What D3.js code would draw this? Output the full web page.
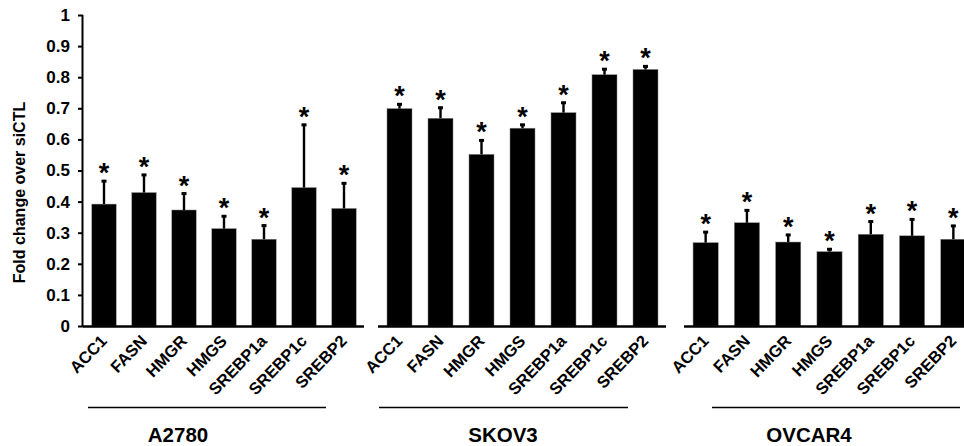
<!DOCTYPE html>
<html>
<head>
<meta charset="utf-8">
<script src="https://cdn.jsdelivr.net/npm/d3@7"></script>
<style>
  body { margin: 0; background: #fff; }
  svg { display: block; font-family: 'Liberation Sans', Arial, sans-serif; font-weight: bold; }
</style>
</head>
<body>
<div id="chart"></div>
<script>
const genes = ['ACC1', 'FASN', 'HMGR', 'HMGS', 'SREBP1a', 'SREBP1c', 'SREBP2'];
const cellLines = ['A2780', 'SKOV3', 'OVCAR4'];

const a2780Values = [0.392, 0.429, 0.373, 0.313, 0.279, 0.445, 0.378];
const a2780Errors = [0.077, 0.060, 0.056, 0.043, 0.047, 0.205, 0.084];
const skov3Values = [0.699, 0.668, 0.552, 0.636, 0.686, 0.808, 0.825];
const skov3Errors = [0.017, 0.037, 0.048, 0.014, 0.035, 0.021, 0.013];
const ovcar4Values = [0.268, 0.332, 0.270, 0.239, 0.295, 0.290, 0.279];
const ovcar4Errors = [0.037, 0.043, 0.026, 0.011, 0.044, 0.056, 0.046];

const yTicks = [0, 0.1, 0.2, 0.3, 0.4, 0.5, 0.6, 0.7, 0.8, 0.9, 1];

const width = 964, height = 446;
const baseY = 326;

const svg = d3.select('#chart')
  .append('svg')
  .attr('width', width)
  .attr('height', height);

const y = d3.scaleLinear().domain([0, 1]).range([baseY, 15]);

// each cell line gets its own band scale (the panels are not evenly spaced)
const panels = [
  { name: cellLines[0], values: a2780Values, errors: a2780Errors, range: [84, 364], line: [88, 326], label: 178 },
  { name: cellLines[1], values: skov3Values, errors: skov3Errors, range: [379, 666], line: [379, 628], label: 503 },
  { name: cellLines[2], values: ovcar4Values, errors: ovcar4Errors, range: [685, 974], line: [712, 960], label: 809 }
];

// y axis
const yAxis = svg.append('g')
  .attr('transform', 'translate(83,0)')
  .call(d3.axisLeft(y).tickValues(yTicks).tickSize(5).tickPadding(8).tickFormat(d => String(+d.toFixed(1))));
yAxis.select('.domain').attr('stroke', '#000').attr('stroke-width', 2).attr('d', `M-0.5,${y(1)}V${baseY}`);
yAxis.selectAll('.tick line').attr('stroke', '#000').attr('stroke-width', 2);
yAxis.selectAll('.tick text')
  .attr('fill', '#000')
  .style('font-size', '17px')
  .style('font-weight', 'bold')
  .style('font-family', "'Liberation Sans', Arial, sans-serif");

svg.append('text')
  .attr('transform', `translate(25,${(y(1) + baseY) / 2 + 22}) rotate(-90)`)
  .attr('text-anchor', 'middle')
  .style('font-size', '16px')
  .text('Fold change over siCTL');

panels.forEach(p => {
  const x = d3.scaleBand()
    .domain(genes)
    .range(p.range)
    .paddingInner(0.39)
    .paddingOuter(0.195);

  const rows = genes.map((g, i) => ({ gene: g, value: p.values[i], err: p.errors[i] }));
  const g = svg.append('g');

  g.selectAll('rect.bar')
    .data(rows)
    .join('rect')
    .attr('class', 'bar')
    .attr('x', d => x(d.gene))
    .attr('y', d => y(d.value))
    .attr('width', x.bandwidth())
    .attr('height', d => baseY - y(d.value))
    .attr('fill', '#000')
    .attr('stroke', '#888')
    .attr('stroke-width', 0.5);

  // upper error bars only
  g.selectAll('line.err')
    .data(rows)
    .join('line')
    .attr('class', 'err')
    .attr('x1', d => x(d.gene) + x.bandwidth() / 2)
    .attr('x2', d => x(d.gene) + x.bandwidth() / 2)
    .attr('y1', d => y(d.value))
    .attr('y2', d => y(d.value + d.err))
    .attr('stroke', '#000')
    .attr('stroke-width', 2.4);

  g.selectAll('rect.cap')
    .data(rows)
    .join('rect')
    .attr('class', 'cap')
    .attr('x', d => x(d.gene) + x.bandwidth() / 2 - 2.5)
    .attr('y', d => y(d.value + d.err) - 0.5)
    .attr('width', 5)
    .attr('height', 3)
    .attr('fill', '#000');

  g.selectAll('text.star')
    .data(rows)
    .join('text')
    .attr('class', 'star')
    .attr('x', d => x(d.gene) + x.bandwidth() / 2)
    .attr('y', d => y(d.value + d.err) + 2)
    .attr('text-anchor', 'middle')
    .style('font-size', '27px')
    .text('*');

  // baseline
  g.append('line')
    .attr('x1', p.range[0] - 1)
    .attr('x2', Math.min(p.range[1], width))
    .attr('y1', baseY + 0.5)
    .attr('y2', baseY + 0.5)
    .attr('stroke', '#000')
    .attr('stroke-width', 2.5);

  g.selectAll('text.gene')
    .data(rows)
    .join('text')
    .attr('class', 'gene')
    .attr('text-anchor', 'end')
    .attr('transform', d => `translate(${x(d.gene) + x.bandwidth() / 2 + 4},${baseY + 16}) rotate(-46)`)
    .style('font-size', '16.5px')
    .text(d => d.gene);

  g.append('line')
    .attr('x1', p.line[0])
    .attr('x2', p.line[1])
    .attr('y1', 407.5)
    .attr('y2', 407.5)
    .attr('stroke', '#000')
    .attr('stroke-width', 1.3);

  g.append('text')
    .attr('x', p.label)
    .attr('y', 442)
    .attr('text-anchor', 'middle')
    .style('font-size', '20.5px')
    .text(p.name);
});
</script>
</body>
</html>
